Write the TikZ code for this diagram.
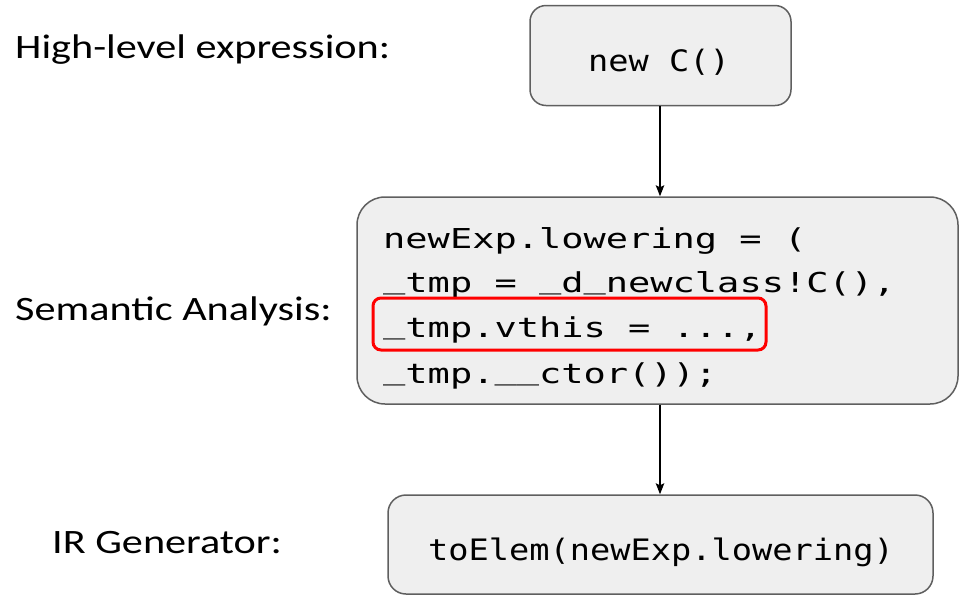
\documentclass[tikz,border=0pt]{standalone}
\usepackage{fontspec}
\usetikzlibrary{arrows.meta}
\newfontfamily\labelfont[FakeStretch=1.235]{Carlito}
\newfontfamily\codefont[FakeStretch=1.14]{DejaVu Sans Mono}
\newfontfamily\codewide[FakeStretch=1.35]{DejaVu Sans Mono}
\definecolor{boxfill}{HTML}{EFEFEF}
\definecolor{boxline}{HTML}{5F5F5F}
% underscore sitting a little higher, closer to the baseline
\newcommand\ub{\raisebox{0.12em}{\_}}
\tikzset{
  stagebox/.style={draw=boxline, fill=boxfill, line width=1.5pt, inner sep=0pt},
  stagelabel/.style={anchor=base west, inner sep=0pt, font=\labelfont\fontsize{34.2}{36}\selectfont},
  codetext/.style={anchor=base, inner sep=0pt, font=\codefont\fontsize{29.5}{31}\selectfont},
  codeline/.style={anchor=base west, inner sep=0pt, font=\codewide\fontsize{27.4}{30}\selectfont},
  flow/.style={draw=black, line width=1.3pt, -{Stealth[length=11pt,width=8.5pt,inset=2pt]}},
  highlight/.style={draw=red, line width=3pt, rounded corners=8pt, inner sep=0pt}
}
\begin{document}
\begin{tikzpicture}[x=1pt,y=-1pt]
\useasboundingbox (0,0) rectangle (960,595);

% stage labels
\node[stagelabel] (lhigh) at (15,58) {High-level expression:};
\node[stagelabel] (lsem) at (15,320) {Semantic Analysis:};
\node[stagelabel] (lir) at (52,553) {IR Generator:};

% stage boxes
\node[stagebox, rounded corners=16pt, minimum width=261pt, minimum height=100pt] (expr) at (660.5,55.5) {};
\node[stagebox, rounded corners=28pt, minimum width=601pt, minimum height=207pt] (sema) at (657.5,300.5) {};
\node[stagebox, rounded corners=18pt, minimum width=545pt, minimum height=99pt] (irgen) at (660.5,544.5) {};

% box contents
\node[codetext] (exprtxt) at (659,71) {new C()};
\node[codeline] (s1) at (383,248) {newExp.lowering = (};
\node[codeline] (s2) at (383,292) {\ub tmp = \ub d\ub newclass!C(),};
\node[codeline] (s3) at (383,337) {\ub tmp.vthis = ...,};
\node[codeline] (s4) at (383,383) {\ub tmp.\ub\ub ctor());};
\node[codetext] (irtxt) at (661,560) {toElem(newExp.lowering)};

% highlighted line
\node[highlight, minimum width=393pt, minimum height=52pt] (hl) at (569.5,324) {};

% flow arrows
\draw[flow] (expr.south -| 660,0) -- (sema.north -| 660,0);
\draw[flow] (sema.south -| 660,0) -- (irgen.north -| 660,0);
\end{tikzpicture}
\end{document}
